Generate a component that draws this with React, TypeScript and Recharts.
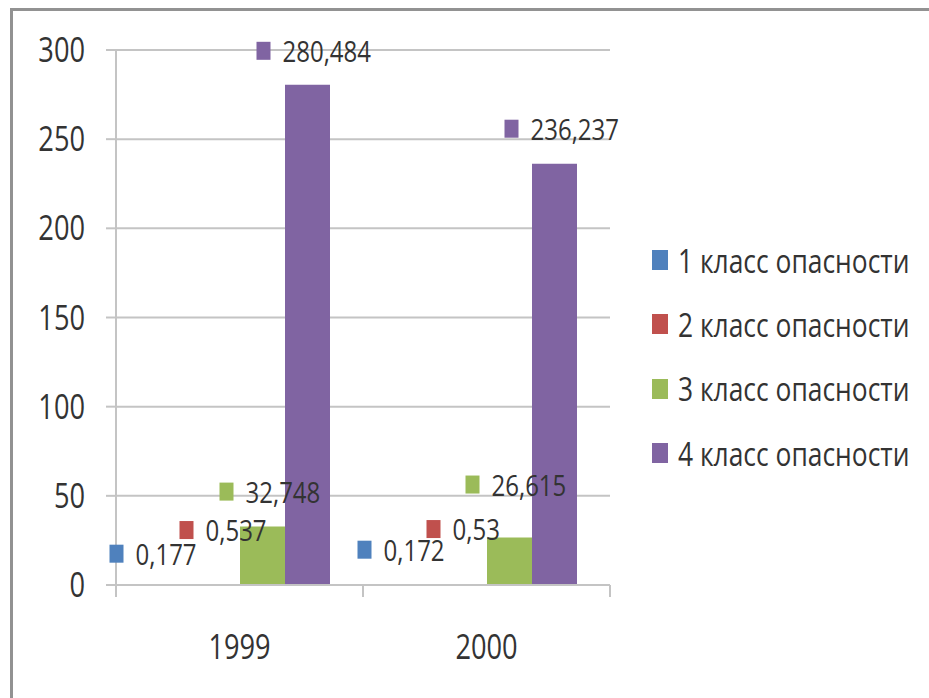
import React from 'react';
import { BarChart, Bar, XAxis, YAxis, CartesianGrid, LabelList } from 'recharts';

const years = ['1999', '2000'];
const class1 = [0.177, 0.172];
const class2 = [0.537, 0.53];
const class3 = [32.748, 26.615];
const class4 = [280.484, 236.237];
const seriesNames = ['1 класс опасности', '2 класс опасности', '3 класс опасности', '4 класс опасности'];
const yTicks = [0, 50, 100, 150, 200, 250, 300];

const COLORS = ['#4f81bd', '#c0504d', '#9bbb59', '#8064a2'];
const KEYS = ['c1', 'c2', 'c3', 'c4'];
const FONT = "'Open Sans', sans-serif";
const TEXT = '#333333';
const GRID = '#c4c4c4';
const SQUEEZE = 0.8; // the source text is tall and narrow

const W = 929;
const H = 698;
const PLOT_LEFT = 116;
const PLOT_RIGHT = 610;
const PLOT_TOP = 50;
const PLOT_BOTTOM = 585;
const X_AXIS_H = 60;
const BAND = (PLOT_RIGHT - PLOT_LEFT) / years.length;

// where each data label sits: square left edge vs bar centre, label middle vs bar top
const labelNudge: Record<string, { dx: number; dy: number }[]> = {
    c1: [{ dx: -63, dy: -31 }, { dx: -62, dy: -35 }],
    c2: [{ dx: -38, dy: -54 }, { dx: -38, dy: -55 }],
    c3: [{ dx: -43, dy: -35 }, { dx: -44, dy: -53 }],
    c4: [{ dx: -51, dy: -34 }, { dx: -50, dy: -35 }],
};

const data = years.map((year, i) => ({
    year,
    c1: class1[i],
    c2: class2[i],
    c3: class3[i],
    c4: class4[i],
}));

const fmt = (v: number) => String(v).replace('.', ',');

const NarrowText = ({ x, y, size, anchor = 'start', children }: any) => (
    <text
        transform={`translate(${x},${y}) scale(${SQUEEZE},1)`}
        x={0}
        y={0}
        fontSize={size}
        fill={TEXT}
        fontFamily={FONT}
        textAnchor={anchor}
    >
        {children}
    </text>
);

const makeLabel = (key: string, color: string) => (props: any) => {
    const { x, y, width, value, index } = props;
    const nudge = labelNudge[key][index] || { dx: -40, dy: -35 };
    const cx = x + width / 2;
    const cy = y + nudge.dy;
    const left = cx + nudge.dx;
    return (
        <g>
            <rect x={left} y={cy - 9} width={14} height={18} fill={color} />
            <NarrowText x={left + 26} y={cy + 11} size={30}>
                {fmt(value)}
            </NarrowText>
        </g>
    );
};

const XTick = (props: any) => {
    const { x, payload, index } = props;
    return (
        <g>
            <line x1={x - BAND / 2} x2={x - BAND / 2} y1={PLOT_BOTTOM} y2={PLOT_BOTTOM + 12} stroke={GRID} strokeWidth={2} />
            {index === years.length - 1 && (
                <line x1={x + BAND / 2} x2={x + BAND / 2} y1={PLOT_BOTTOM} y2={PLOT_BOTTOM + 12} stroke={GRID} strokeWidth={2} />
            )}
            <NarrowText x={x} y={PLOT_BOTTOM + 74} size={34} anchor="middle">
                {payload.value}
            </NarrowText>
        </g>
    );
};

const YTick = (props: any) => {
    const { x, y, payload } = props;
    return (
        <NarrowText x={x} y={y + 12} size={34} anchor="end">
            {payload.value}
        </NarrowText>
    );
};

const App: React.FC = () => {
    return (
        <div style={{ position: 'absolute', left: 0, top: 0, width: W, height: H, overflow: 'hidden', background: '#fff', fontFamily: FONT }}>
            <div
                style={{
                    position: 'absolute',
                    left: 10,
                    top: 8,
                    width: W + 20,
                    height: H + 20,
                    borderTop: '3px solid #929292',
                    borderLeft: '3px solid #929292',
                }}
            />
            <div style={{ position: 'absolute', left: 0, top: 0 }}>
                <BarChart
                    width={W}
                    height={H}
                    data={data}
                    margin={{ top: PLOT_TOP, right: W - PLOT_RIGHT, left: 0, bottom: H - PLOT_BOTTOM - X_AXIS_H }}
                    barSize={45}
                    barGap={0}
                    style={{ fontFamily: FONT }}
                >
                    <CartesianGrid horizontal vertical={false} stroke={GRID} strokeWidth={2} />
                    <XAxis
                        dataKey="year"
                        height={X_AXIS_H}
                        axisLine={{ stroke: GRID, strokeWidth: 2 }}
                        tickLine={false}
                        tick={<XTick />}
                        interval={0}
                    />
                    <YAxis
                        width={PLOT_LEFT}
                        domain={[0, 300]}
                        ticks={yTicks}
                        interval={0}
                        axisLine={{ stroke: GRID, strokeWidth: 2 }}
                        tickLine={{ stroke: GRID, strokeWidth: 2 }}
                        tickSize={10}
                        tickMargin={21}
                        tick={<YTick />}
                    />
                    {KEYS.map((k, i) => (
                        <Bar key={k} dataKey={k} name={seriesNames[i]} fill={COLORS[i]} isAnimationActive={false}>
                            <LabelList dataKey={k} content={makeLabel(k, COLORS[i])} />
                        </Bar>
                    ))}
                </BarChart>
            </div>
            <div style={{ position: 'absolute', left: 652, top: 228 }}>
                {seriesNames.map((name, i) => (
                    <div key={name} style={{ display: 'flex', alignItems: 'center', height: 64.3 }}>
                        <span style={{ display: 'inline-block', width: 16, height: 20, background: COLORS[i] }} />
                        <span
                            style={{
                                marginLeft: 10,
                                fontSize: 33,
                                color: TEXT,
                                whiteSpace: 'nowrap',
                                lineHeight: 1,
                                display: 'inline-block',
                                transform: `scaleX(${SQUEEZE})`,
                                transformOrigin: 'left center',
                            }}
                        >
                            {name}
                        </span>
                    </div>
                ))}
            </div>
        </div>
    );
};

export default App;
